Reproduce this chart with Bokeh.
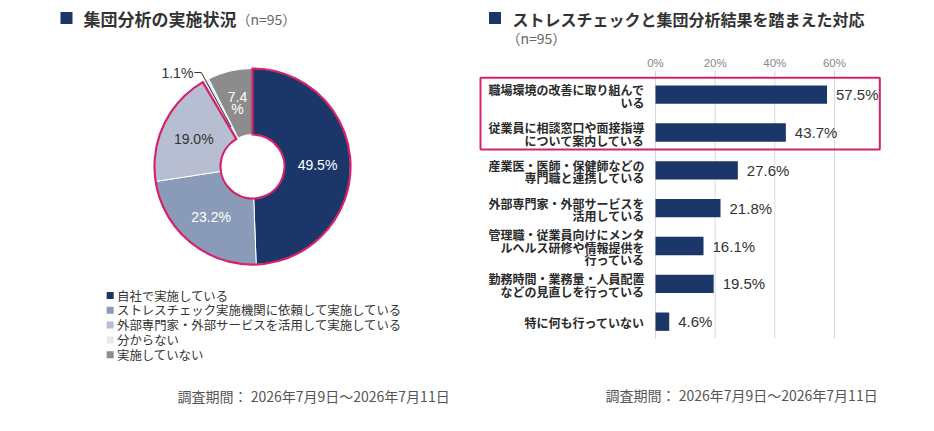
import numpy as np
from bokeh.plotting import figure
from bokeh.layouts import row
from bokeh.models import Range1d
from bokeh.core.properties import value
from bokeh.embed import file_html
from bokeh.resources import INLINE

# ---------------- data ----------------
pie_title = "集団分析の実施状況"
pie_n = "（n=95）"
pie_categories = [
    "自社で実施している",
    "ストレスチェック実施機関に依頼して実施している",
    "外部専門家・外部サービスを活用して実施している",
    "分からない",
    "実施していない",
]
pie_values = [49.5, 23.2, 19.0, 1.1, 7.4]
pie_labels = ["49.5%", "23.2%", "19.0%", "1.1%", "7.4\n%"]
pie_highlight_count = 3

bar_title = "ストレスチェックと集団分析結果を踏まえた対応"
bar_n = "（n=95）"
bar_categories = [
    "職場環境の改善に取り組んで\nいる",
    "従業員に相談窓口や面接指導\nについて案内している",
    "産業医・医師・保健師などの\n専門職と連携している",
    "外部専門家・外部サービスを\n活用している",
    "管理職・従業員向けにメンタ\nルヘルス研修や情報提供を\n行っている",
    "勤務時間・業務量・人員配置\nなどの見直しを行っている",
    "特に何も行っていない",
]
bar_values = [57.5, 43.7, 27.6, 21.8, 16.1, 19.5, 4.6]
bar_ticks = [0, 20, 40, 60]
bar_tick_labels = ["0%", "20%", "40%", "60%"]
bar_highlight_count = 2
survey_period = "調査期間： 2026年7月9日～2026年7月11日"

# ---------------- styles ----------------
JP = value("Noto Sans CJK JP")
AR = value("Liberation Sans")
NAVY = "#1b3668"
PINK = "#d6216c"
PIE_COLORS = ["#1b3668", "#8a9bb9", "#b8bed2", "#e6e8ef", "#8c8c8c"]
PIE_TEXT_COLORS = ["white", "white", "#333333", "#333333", "white"]
PIE_OUTSIDE = [False, False, False, True, False]

W_L, W_R, H = 470, 464, 431

# ================= left: donut =================
CX, CY = 252, 166   # donut centre, px from figure left/top
R_OUT, R_IN = 98, 32

left = figure(width=W_L, height=H, x_range=Range1d(-CX, W_L - CX),
              y_range=Range1d(-(H - CY), CY), x_axis_type=None, y_axis_type=None,
              output_backend="svg", toolbar_location=None, min_border=0)
left.grid.visible = False
left.outline_line_color = None

vals = np.array(pie_values, dtype=float)
frac = vals / vals.sum()
cum = np.concatenate([[0.0], np.cumsum(frac)])
start = np.pi / 2 - 2 * np.pi * cum[:-1]
end = np.pi / 2 - 2 * np.pi * cum[1:]

left.annular_wedge(x=0, y=0, inner_radius=R_IN, outer_radius=R_OUT,
                   start_angle=start, end_angle=end, direction="clock",
                   fill_color=PIE_COLORS, line_color="white", line_width=1)
# highlight outline around the "implemented" slices
left.annular_wedge(x=0, y=0, inner_radius=R_IN, outer_radius=R_OUT,
                   start_angle=start[0], end_angle=end[pie_highlight_count - 1],
                   direction="clock", fill_color=None, line_color=PINK,
                   line_width=2.2, line_join="miter")

mid = 2 * np.pi * (cum[:-1] + cum[1:]) / 2
r_lab = (R_OUT + R_IN) / 2
for i, lab in enumerate(pie_labels):
    if PIE_OUTSIDE[i]:
        sx, sy = np.sin(mid[i]), np.cos(mid[i])
        p0 = (45 * sx, 45 * sy)
        p1 = (107 * sx, 107 * sy)
        p2 = (p1[0] - 7, p1[1])
        left.line(x=[p0[0], p1[0], p2[0]], y=[p0[1], p1[1], p2[1]],
                  line_color="#333333", line_width=1)
        left.text(x=[p2[0] - 1], y=[p2[1]], text=[lab], text_align="right",
                  text_baseline="middle", text_font=AR, text_font_size="14px",
                  text_color=PIE_TEXT_COLORS[i])
    else:
        lines = lab.split("\n")
        n = len(lines)
        lx = r_lab * np.sin(mid[i])
        ly = r_lab * np.cos(mid[i])
        ys = [ly + ((n - 1) / 2 - k) * 12.5 for k in range(n)]
        left.text(x=[lx] * n, y=ys, text=lines, text_align="center",
                  text_baseline="middle", text_font=AR, text_font_size="14px",
                  text_color=PIE_TEXT_COLORS[i])

# legend
leg_y = [-129 - 14.8 * k for k in range(len(pie_categories))]
left.scatter(x=[-142.3] * len(pie_categories), y=leg_y, marker="square", size=7,
             fill_color=PIE_COLORS, line_color=None)
left.text(x=[-135.5] * len(pie_categories), y=leg_y, text=pie_categories,
          text_align="left", text_baseline="middle", text_font=JP,
          text_font_size="12.4px", text_color="#333333")

# title
left.scatter(x=[-186], y=[148.5], marker="square", size=12, fill_color=NAVY, line_color=None)
left.text(x=[-169], y=[148], text=[pie_title], text_align="left", text_baseline="middle",
          text_font=JP, text_font_size="17px", text_font_style="bold", text_color="#333333")
left.text(x=[-169 + 17 * len(pie_title)], y=[147.5], text=[pie_n], text_align="left",
          text_baseline="middle", text_font=JP, text_font_size="14px", text_color="#666666")

# footer
left.text(x=[-75], y=[-229], text=[survey_period], text_align="left",
          text_baseline="middle", text_font=JP, text_font_size="14px", text_color="#555555")

# ================= right: bars =================
X0PX = 185.0     # px of 0% from right-figure left
PXPCT = 2.983    # px per percent
Y0PX = 94.2      # px of first bar centre from top
STEP = 37.83     # px per category


def rx(px):
    return (px - X0PX) / PXPCT


def ry(py):
    return (py - Y0PX) / STEP


right = figure(width=W_R, height=H, x_range=Range1d(rx(0), rx(W_R)),
               y_range=Range1d(ry(H), ry(0)), x_axis_type=None, y_axis_type=None,
               output_backend="svg", toolbar_location=None, min_border=0)
right.grid.visible = False
right.outline_line_color = None

idx = list(range(len(bar_categories)))

right.segment(x0=bar_ticks, x1=bar_ticks, y0=ry(70), y1=ry(338),
              line_color="#d9d9d9", line_width=1)
right.text(x=bar_ticks, y=[ry(62.7)] * len(bar_ticks), text=bar_tick_labels,
           text_align="center", text_baseline="middle", text_font=AR,
           text_font_size="11.5px", text_color="#888888")

right.hbar(y=idx, left=0, right=bar_values, height=0.485, fill_color=NAVY, line_color=None)
right.text(x=bar_values, y=idx, text=[f"{v}%" for v in bar_values], x_offset=9,
           text_align="left", text_baseline="middle", text_font=AR,
           text_font_size="15px", text_color="#333333")

lx, ly, lt = [], [], []
for i, cat in enumerate(bar_categories):
    lines = cat.split("\n")
    n = len(lines)
    for k, t in enumerate(lines):
        lx.append(0)
        ly.append(i + ((k - (n - 1) / 2) * 12.5 + 1.3) / STEP)
        lt.append(t)
right.text(x=lx, y=ly, text=lt, x_offset=-11, text_align="right", text_baseline="middle",
           text_font=JP, text_font_size="12px", text_font_style="bold", text_color="#2a2a2a")

# highlight box around first two items
right.quad(left=rx(10), right=rx(409.3), top=-0.447, bottom=(bar_highlight_count - 1) + 0.449,
           fill_color=None, line_color=PINK, line_width=2)

# title
right.scatter(x=[rx(24.5)], y=[ry(17.5)], marker="square", size=12, fill_color=NAVY, line_color=None)
right.text(x=[rx(42)], y=[ry(18)], text=[bar_title], text_align="left", text_baseline="middle",
           text_font=JP, text_font_size="16px", text_font_style="bold", text_color="#333333")
right.text(x=[rx(36)], y=[ry(37)], text=[bar_n], text_align="left", text_baseline="middle",
           text_font=JP, text_font_size="14px", text_color="#666666")

# footer
right.text(x=[rx(135)], y=[ry(394)], text=[survey_period], text_align="left",
           text_baseline="middle", text_font=JP, text_font_size="14px", text_color="#555555")

layout = row(left, right)
open("out.html", "w").write(file_html(layout, INLINE))
